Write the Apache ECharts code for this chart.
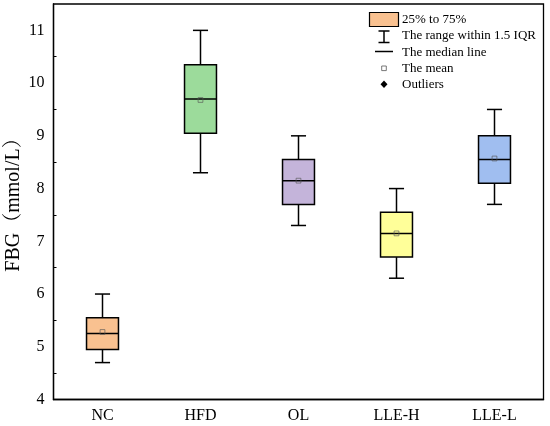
<!DOCTYPE html>
<html>
<head>
<meta charset="utf-8">
<script src="https://cdn.jsdelivr.net/npm/echarts@6/dist/echarts.min.js"></script>
<style>
	html, body { margin: 0; padding: 0; background: #fff; }
	#main { width: 550px; height: 426px; }
</style>
</head>
<body>
<div id="main"></div>
<script>
const serif = "'Liberation Serif', 'Times New Roman', 'Noto Serif CJK SC', 'Noto Sans CJK SC', serif";

// groups and box statistics
const groups = ['NC', 'HFD', 'OL', 'LLE-H', 'LLE-L'];
const whiskerLow = [4.7, 8.3, 7.3, 6.3, 7.7];
const q1 = [4.95, 9.05, 7.7, 6.7, 8.1];
const median = [5.25, 9.7, 8.15, 7.15, 8.55];
const q3 = [5.55, 10.35, 8.55, 7.55, 9.0];
const whiskerHigh = [6.0, 11.0, 9.0, 8.0, 9.5];
const means = [5.28, 9.68, 8.15, 7.15, 8.57];
const boxColors = ['#F9C190', '#9CDB9B', '#C4B4DA', '#FFFF99', '#A0BEF0'];

const legendLabels = ['25% to 75%', 'The range within 1.5 IQR', 'The median line', 'The mean', 'Outliers'];

const boxData = groups.map((g, i) => [i, whiskerLow[i], q1[i], median[i], q3[i], whiskerHigh[i]]);
const meanData = groups.map((g, i) => [i, means[i]]);

const myChart = echarts.init(document.getElementById('main'));

function renderBox(params, api) {
	const i = api.value(0);
	const band = api.size([1, 0])[0];
	const halfBox = band * 0.163;
	const halfCap = band * 0.077;
	const lo = api.coord([i, api.value(1)]);
	const b1 = api.coord([i, api.value(2)]);
	const md = api.coord([i, api.value(3)]);
	const b3 = api.coord([i, api.value(4)]);
	const hi = api.coord([i, api.value(5)]);
	const x = lo[0];
	const ls = { stroke: '#000', lineWidth: 1.5 };
	return {
		type: 'group',
		children: [
			{ type: 'line', shape: { x1: x, y1: hi[1], x2: x, y2: b3[1] }, style: ls },
			{ type: 'line', shape: { x1: x, y1: b1[1], x2: x, y2: lo[1] }, style: ls },
			{ type: 'line', shape: { x1: x - halfCap, y1: hi[1], x2: x + halfCap, y2: hi[1] }, style: ls },
			{ type: 'line', shape: { x1: x - halfCap, y1: lo[1], x2: x + halfCap, y2: lo[1] }, style: ls },
			{
				type: 'rect',
				shape: { x: x - halfBox, y: b3[1], width: halfBox * 2, height: b1[1] - b3[1] },
				style: { fill: boxColors[params.dataIndex], stroke: '#000', lineWidth: 1.5 }
			},
			{ type: 'line', shape: { x1: x - halfBox, y1: md[1], x2: x + halfBox, y2: md[1] }, style: ls }
		]
	};
}

// legend drawn by hand, icons differ in shape and size
const lx = 384, ly0 = 19.5, lstep = 16.3, tx = 402;
const legendItems = [
	{ type: 'rect', shape: { x: lx - 14.5, y: ly0 - 7, width: 29, height: 14 }, style: { fill: boxColors[0], stroke: '#000', lineWidth: 1.2 } },
	{ type: 'line', shape: { x1: lx, y1: 31, x2: lx, y2: 42.5 }, style: { stroke: '#000', lineWidth: 1.5 } },
	{ type: 'line', shape: { x1: lx - 5.5, y1: 31, x2: lx + 5.5, y2: 31 }, style: { stroke: '#000', lineWidth: 1.5 } },
	{ type: 'line', shape: { x1: lx - 5.5, y1: 42.5, x2: lx + 5.5, y2: 42.5 }, style: { stroke: '#000', lineWidth: 1.5 } },
	{ type: 'line', shape: { x1: lx - 9, y1: 51.5, x2: lx + 9, y2: 51.5 }, style: { stroke: '#000', lineWidth: 1.5 } },
	{ type: 'rect', shape: { x: lx - 2.3, y: 66, width: 4.6, height: 4.6 }, style: { fill: '#fff', stroke: '#555', lineWidth: 0.8 } },
	{ type: 'polygon', shape: { points: [[lx, 80.6], [lx + 3.5, 84.3], [lx, 88], [lx - 3.5, 84.3]] }, style: { fill: '#000' } }
].concat(legendLabels.map((t, k) => ({
	type: 'text',
	x: tx,
	y: ly0 + k * lstep,
	style: { text: t, font: '13px ' + serif, fill: '#000', textVerticalAlign: 'middle' }
})));

option = {
	animation: false,
	backgroundColor: '#fff',
	grid: {
		left: 53.5, right: 6.5, top: 4, bottom: 26.5,
		show: true, borderColor: '#000', borderWidth: 1.3, backgroundColor: 'transparent'
	},
	xAxis: {
		type: 'category',
		data: groups,
		boundaryGap: true,
		axisLine: { lineStyle: { color: '#000', width: 1.3 } },
		axisTick: { inside: true, alignWithLabel: true, length: 6, lineStyle: { color: '#000', width: 1.3 } },
		axisLabel: { color: '#000', fontFamily: serif, fontSize: 16, margin: 8 },
		splitLine: { show: false }
	},
	yAxis: {
		type: 'value',
		min: 4,
		max: 11.5,
		interval: 1,
		axisLine: { show: true, lineStyle: { color: '#000', width: 1.3 } },
		axisTick: { inside: true, length: 5, lineStyle: { color: '#000', width: 1.2 } },
		minorTick: { show: true, splitNumber: 2, length: 3, lineStyle: { color: '#000', width: 1 } },
		axisLabel: {
			color: '#000', fontFamily: serif, fontSize: 16, margin: 9,
			formatter: v => (Number.isInteger(v) ? String(v) : '')
		},
		splitLine: { show: false }
	},
	graphic: [
		{
			type: 'text',
			x: 14,
			y: 200,
			rotation: Math.PI / 2,
			style: { text: 'FBG（mmol/L）', font: '20px ' + serif, fill: '#000', textAlign: 'center', textVerticalAlign: 'middle' }
		},
		{ type: 'group', children: legendItems }
	],
	series: [
		{
			name: '25% to 75%',
			type: 'custom',
			renderItem: renderBox,
			encode: { x: 0, y: [1, 2, 3, 4, 5] },
			data: boxData
		},
		{
			name: 'The mean',
			type: 'scatter',
			symbol: 'rect',
			symbolSize: 4.8,
			itemStyle: { color: 'transparent', borderColor: '#555', borderWidth: 0.8 },
			data: meanData,
			z: 5
		}
	]
};
myChart.setOption(option);
</script>
</body>
</html>
